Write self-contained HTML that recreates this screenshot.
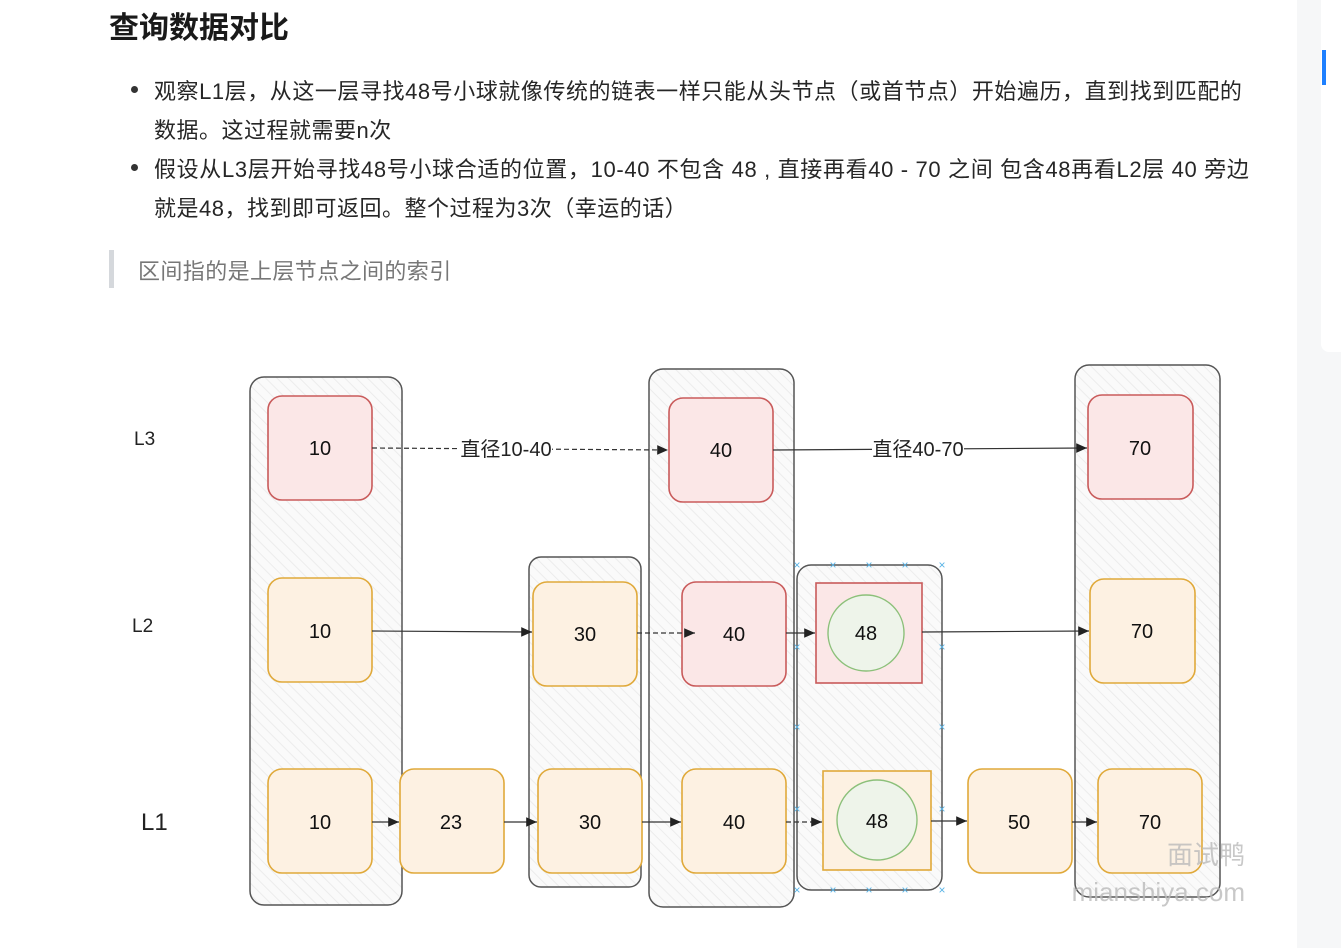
<!DOCTYPE html>
<html><head><meta charset="utf-8"><style>
body{margin:0;width:1341px;height:948px;background:#fff;overflow:hidden;position:relative;font-family:"Liberation Sans","Noto Sans CJK SC",sans-serif;color:#1f1f1f}
.t{position:absolute;white-space:nowrap}
h1{position:absolute;left:109px;top:3px;margin:0;font-size:30px;font-weight:bold;font-family:"Liberation Sans","Noto Sans CJK SC",sans-serif;color:#1a1a1a}
.p{font-size:22px;left:154px;color:#262626;letter-spacing:0.5px}
.dot{position:absolute;width:7px;height:7px;border-radius:50%;background:#333;left:131px}
</style></head><body>
<h1>查询数据对比</h1>
<div class="dot" style="top:86px"></div>
<div class="t p" style="top:74px;letter-spacing:0.55px">观察L1层，从这一层寻找48号小球就像传统的链表一样只能从头节点（或首节点）开始遍历，直到找到匹配的</div>
<div class="t p" style="top:113px">数据。这过程就需要n次</div>
<div class="dot" style="top:164px"></div>
<div class="t p" style="top:152px;letter-spacing:0.65px">假设从L3层开始寻找48号小球合适的位置，10-40 不包含 48 , 直接再看40 - 70 之间 包含48再看L2层 40 旁边</div>
<div class="t p" style="top:191px">就是48，找到即可返回。整个过程为3次（幸运的话）</div>
<div style="position:absolute;left:109px;top:250px;width:5px;height:38px;background:#d5d8dc"></div>
<div class="t" style="left:138px;top:254px;font-size:22px;color:#777;letter-spacing:0.4px">区间指的是上层节点之间的索引</div>
<div style="position:absolute;left:1297px;top:0;width:44px;height:948px;background:#f6f7f8"></div>
<div style="position:absolute;left:1321px;top:0;width:20px;height:352px;background:#fff;border-radius:0 0 0 8px"></div>
<div style="position:absolute;left:1322px;top:50px;width:4px;height:35px;background:#1e80ff"></div>
<svg width="1341" height="948" style="position:absolute;left:0;top:0" font-family="Liberation Sans, Noto Sans CJK SC, sans-serif">
<defs>
<pattern id="h" width="8" height="8" patternUnits="userSpaceOnUse" patternTransform="rotate(-45)"><rect width="8" height="8" fill="#fafafa"/><line x1="0" y1="0" x2="0" y2="8" stroke="#ececec" stroke-width="2"/></pattern>
<marker id="a" markerWidth="10" markerHeight="10" refX="9" refY="5" orient="auto"><path d="M0,1 L9,5 L0,9 z" fill="#222"/></marker>
</defs>
<g fill="url(#h)" stroke="#555" stroke-width="1.5">
<rect x="250" y="377" width="152" height="528" rx="14"/>
<rect x="529" y="557" width="112" height="330" rx="12"/>
<rect x="649" y="369" width="145" height="538" rx="14"/>
<rect x="797" y="565" width="145" height="325" rx="14"/>
<rect x="1075" y="365" width="145" height="532" rx="14"/>
</g>
<g stroke="#c95b5b" stroke-width="1.6" fill="#fbe7e7">
<rect x="268" y="396" width="104" height="104" rx="14"/>
<rect x="669" y="398" width="104" height="104" rx="14"/>
<rect x="1088" y="395" width="105" height="104" rx="14"/>
<rect x="682" y="582" width="104" height="104" rx="14"/>
<rect x="816" y="583" width="106" height="100"/>
</g>
<g stroke="#e0a93a" stroke-width="1.6" fill="#fdf1e2">
<rect x="268" y="578" width="104" height="104" rx="14"/>
<rect x="533" y="582" width="104" height="104" rx="14"/>
<rect x="1090" y="579" width="105" height="104" rx="14"/>
<rect x="268" y="769" width="104" height="104" rx="14"/>
<rect x="400" y="769" width="104" height="104" rx="14"/>
<rect x="538" y="769" width="104" height="104" rx="14"/>
<rect x="682" y="769" width="104" height="104" rx="14"/>
<rect x="823" y="771" width="108" height="99"/>
<rect x="968" y="769" width="104" height="104" rx="14"/>
<rect x="1098" y="769" width="104" height="104" rx="14"/>
</g>
<g fill="#eef4ea" stroke="#8cc07a" stroke-width="1.4">
<circle cx="866" cy="633" r="38"/><circle cx="877" cy="820" r="40"/>
</g>
<g stroke="#333" stroke-width="1.2" fill="none" marker-end="url(#a)">
<line x1="372" y1="448" x2="668" y2="450" stroke-dasharray="5,3"/>
<line x1="773" y1="450" x2="1087" y2="448"/>
<line x1="372" y1="631" x2="532" y2="632"/>
<line x1="637" y1="633" x2="695" y2="633" stroke-dasharray="5,3"/>
<line x1="786" y1="633" x2="815" y2="633"/>
<line x1="922" y1="632" x2="1089" y2="631"/>
<line x1="372" y1="822" x2="399" y2="822"/>
<line x1="504" y1="822" x2="537" y2="822"/>
<line x1="642" y1="822" x2="681" y2="822"/>
<line x1="786" y1="822" x2="822" y2="822" stroke-dasharray="5,3"/>
<line x1="931" y1="821" x2="967" y2="821"/>
<line x1="1072" y1="822" x2="1097" y2="822"/>
</g>
<rect x="460" y="437" width="92" height="24" fill="#fff"/>
<rect x="872" y="437" width="92" height="24" fill="#fff"/>
<g font-size="20" fill="#222" text-anchor="middle">
<text x="506" y="456">直径10-40</text><text x="918" y="456">直径40-70</text>
</g>
<g font-size="20" fill="#111" text-anchor="middle">
<text x="320" y="455">10</text><text x="721" y="457">40</text><text x="1140" y="455">70</text>
<text x="320" y="638">10</text><text x="585" y="641">30</text><text x="734" y="641">40</text><text x="866" y="640">48</text><text x="1142" y="638">70</text>
<text x="320" y="829">10</text><text x="451" y="829">23</text><text x="590" y="829">30</text><text x="734" y="829">40</text><text x="877" y="828">48</text><text x="1019" y="829">50</text><text x="1150" y="829">70</text>
</g>
<g font-size="19" fill="#222"><text x="134" y="445">L3</text><text x="132" y="632">L2</text><text x="141" y="830" font-size="24">L1</text></g>
<g fill="#5ab4e6" font-size="12" text-anchor="middle">
<text x="797" y="569">×</text><text x="833" y="569">×</text><text x="869" y="569">×</text><text x="905" y="569">×</text><text x="942" y="569">×</text>
<text x="797" y="651">×</text><text x="942" y="651">×</text><text x="797" y="731">×</text><text x="942" y="731">×</text>
<text x="797" y="813">×</text><text x="942" y="813">×</text>
<text x="797" y="894">×</text><text x="833" y="894">×</text><text x="869" y="894">×</text><text x="905" y="894">×</text><text x="942" y="894">×</text>
</g>
<text x="1245" y="864" font-size="26" fill="#bbb" text-anchor="end" opacity="0.8">面试鸭</text>
<text x="1245" y="901" font-size="26" fill="#bbb" text-anchor="end" opacity="0.8">mianshiya.com</text>
</svg>
</body></html>
